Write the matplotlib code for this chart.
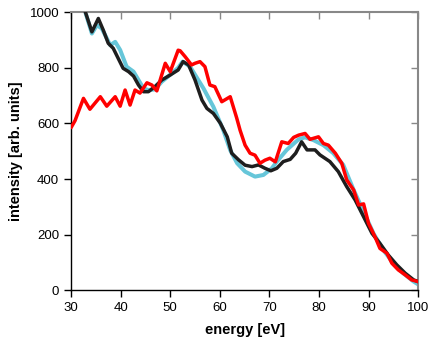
import matplotlib
matplotlib.use("Agg")
import matplotlib.pyplot as plt

plt.rcParams['font.family'] = ['Liberation Sans', 'DejaVu Sans']

red_x = [30, 30.8, 32.5, 33.8, 35.9, 37.2, 38.9, 39.9, 40.9, 41.9, 42.9, 43.9, 45.3, 46.3, 47.3,
         49.0, 50.0, 51.6, 52.0, 53.0, 54.3, 55.0, 56.0, 57.0, 58.0, 59.0, 60.4, 62.1, 63.4, 64.1,
         65.1, 66.1, 67.1, 68.1, 69.1, 70.1, 71.2, 72.5, 73.8, 74.9, 75.9, 77.2, 78.2, 79.9, 80.9,
         81.9, 83.3, 84.6, 85.6, 87.0, 88.0, 89.0, 90.0, 91.3, 92.3, 93.7, 94.7, 96.0, 97.4, 98.7, 100]
red_y = [585, 610, 690, 651, 696, 662, 696, 662, 720, 666, 720, 709, 746, 738, 717,
         816, 786, 863, 861, 840, 810, 816, 822, 804, 738, 732, 678, 696, 620, 575,
         522, 493, 486, 457, 468, 475, 462, 534, 528, 550, 558, 564, 543, 552, 528,
         522, 493, 457, 397, 361, 307, 311, 241, 193, 151, 134, 98, 74, 56, 38, 32]

black_x = [32.7, 34.2, 35.5, 36.5, 37.5, 38.5, 39.5, 40.5, 41.6, 42.6, 43.6, 44.6, 45.6, 46.9, 48.3,
           50.0, 51.6, 52.6, 53.7, 55.0, 56.4, 57.4, 58.7, 60.1, 61.5, 62.4, 63.8, 65.1, 66.5, 67.8,
           69.1, 70.3, 71.5, 72.8, 74.2, 75.3, 76.5, 77.6, 79.2, 80.2, 82.2, 83.9, 85.6, 87.3, 89.0,
           90.7, 92.3, 94.0, 95.7, 97.4, 99.1, 100]
black_y = [1010, 929, 977, 935, 888, 870, 834, 798, 786, 770, 738, 714, 714, 732, 756,
           774, 792, 822, 810, 756, 684, 654, 636, 601, 552, 493, 469, 450, 445, 451,
           439, 430, 439, 463, 471, 493, 534, 505, 505, 487, 463, 427, 373, 325, 265,
           205, 169, 127, 92, 62, 38, 32]

cyan_x = [32.7, 34.2, 35.2, 36.2, 37.9, 38.9, 39.9, 41.2, 42.6, 43.6, 44.6, 45.6, 46.9, 48.3, 50.0,
          51.6, 52.5, 54.0, 56.7, 58.7, 60.7, 62.1, 63.5, 65.1, 67.1, 68.8, 70.5, 71.5, 73.5, 75.9,
          77.2, 78.9, 80.9, 82.9, 84.9, 87.0, 89.0, 91.0, 93.0, 95.0, 97.0, 99.1, 100]
cyan_y = [1010, 923, 953, 941, 881, 893, 864, 804, 786, 756, 726, 720, 722, 750, 775,
          800, 822, 804, 726, 660, 576, 504, 457, 427, 409, 415, 439, 463, 505, 543,
          550, 540, 522, 493, 451, 361, 283, 205, 145, 98, 62, 32, 22]

x_ticks = [30, 40, 50, 60, 70, 80, 90, 100]
y_ticks = [0, 200, 400, 600, 800, 1000]

fig = plt.figure(figsize=(4.36, 3.45), dpi=100)
ax = fig.add_axes([0.163, 0.158, 0.796, 0.807])

ax.plot(cyan_x, cyan_y, color='#66c6d9', lw=2.9, solid_joinstyle='round', solid_capstyle='round', zorder=2)
ax.plot(black_x, black_y, color='#1e1e1e', lw=2.5, solid_joinstyle='round', solid_capstyle='round', zorder=3)
ax.plot(red_x, red_y, color='#ff0000', lw=2.5, solid_joinstyle='round', solid_capstyle='round', zorder=4)

ax.set_xlim(30, 100)
ax.set_ylim(0, 1000)
ax.set_xticks(x_ticks)
ax.set_yticks(y_ticks)
ax.tick_params(axis='both', direction='out', length=5, width=1, labelsize=9.5, colors='black')

for s in ['left', 'bottom']:
    ax.spines[s].set_color('black')
    ax.spines[s].set_linewidth(1)
for s in ['top', 'right']:
    ax.spines[s].set_color('#888888')
    ax.spines[s].set_linewidth(1.5)

ax2 = ax.secondary_xaxis('top')
ax2.set_xticks(x_ticks)
ax2.tick_params(direction='in', length=5, width=1, colors='#888888', labeltop=False)
ax2.spines['top'].set_visible(False)
ay2 = ax.secondary_yaxis('right')
ay2.set_yticks(y_ticks)
ay2.tick_params(direction='in', length=5, width=1, colors='#888888', labelright=False)
ay2.spines['right'].set_visible(False)

ax.set_xlabel('energy [eV]', fontsize=10.5, fontweight='bold', labelpad=6)
ax.set_ylabel('intensity [arb. units]', fontsize=10.5, fontweight='bold', labelpad=5)

fig.savefig('out.png', dpi=100)
